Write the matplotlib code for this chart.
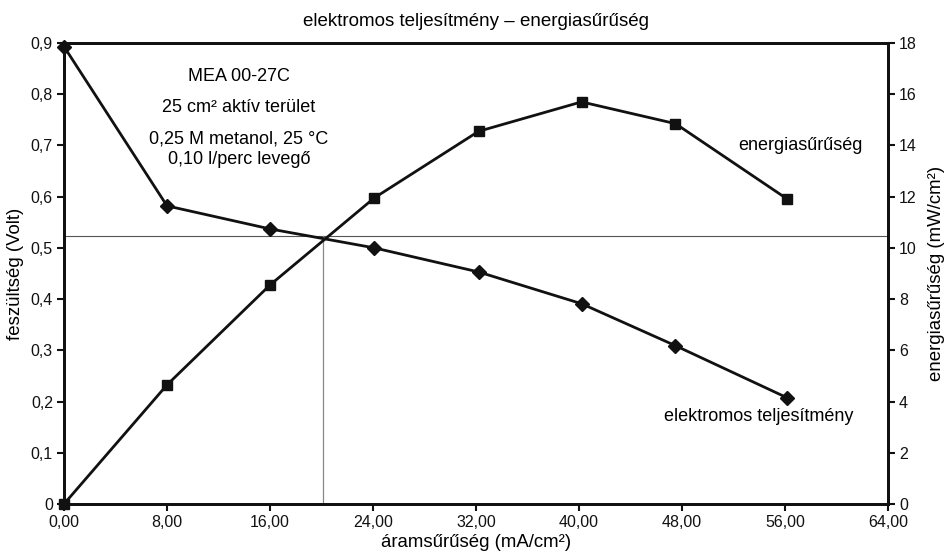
import matplotlib
matplotlib.use("Agg")
import matplotlib.pyplot as plt
from matplotlib.ticker import FuncFormatter

plt.rcParams['font.family'] = ['Liberation Sans', 'DejaVu Sans']

# áramsűrűség (mA/cm2)
aram = [0, 8, 16, 24.1, 32.2, 40.2, 47.5, 56.2]
# feszültség (Volt)
feszultseg = [0.893, 0.582, 0.537, 0.500, 0.453, 0.391, 0.309, 0.207]
# energiasűrűség (mW/cm2)
energia = [0, 4.65, 8.55, 11.95, 14.55, 15.7, 14.85, 11.9]

x_ticks = [0, 8, 16, 24, 32, 40, 48, 56, 64]
y_left_ticks = [0, 0.1, 0.2, 0.3, 0.4, 0.5, 0.6, 0.7, 0.8, 0.9]
y_right_ticks = [0, 2, 4, 6, 8, 10, 12, 14, 16, 18]

hline_v = 0.523
vline_i = 20.1

fig = plt.figure(figsize=(9.47, 5.54), dpi=100)
ax = fig.add_axes([0.0676, 0.0903, 0.87, 0.8321])
ax2 = ax.twinx()

ax.axhline(hline_v, color='#555555', lw=0.8, zorder=1)
ax.plot([vline_i, vline_i], [0, hline_v], color='#888888', lw=0.9, zorder=1)

ax.plot(aram, feszultseg, color='#111111', lw=2, marker='D', ms=7, zorder=3, clip_on=False)
ax2.plot(aram, energia, color='#111111', lw=2, marker='s', ms=7, zorder=3, clip_on=False)

ax.set_xlim(0, 64)
ax.set_ylim(0, 0.9)
ax2.set_ylim(0, 18)
ax.set_xticks(x_ticks)
ax.set_yticks(y_left_ticks)
ax2.set_yticks(y_right_ticks)

ax.xaxis.set_major_formatter(FuncFormatter(lambda v, p: f"{v:.2f}".replace('.', ',')))
ax.yaxis.set_major_formatter(FuncFormatter(lambda v, p: "0" if v == 0 else f"{v:.1f}".replace('.', ',')))

for a in (ax, ax2):
    for s in a.spines.values():
        s.set_linewidth(2)
        s.set_color('#111111')
    a.tick_params(direction='out', length=5, width=1.5, labelsize=11.5, colors='#111111', pad=3)

ax.set_xlabel("áramsűrűség (mA/cm²)", fontsize=13.4, labelpad=3)
ax.set_ylabel("feszültség (Volt)", fontsize=13.4, labelpad=5)
ax2.set_ylabel("energiasűrűség (mW/cm²)", fontsize=13.4, labelpad=8)
ax.set_title("elektromos teljesítmény – energiasűrűség", fontsize=13.5, pad=12)

fs = 13
ax.text(13.6, 0.835, "MEA 00-27C", ha='center', va='center', fontsize=fs)
ax.text(13.6, 0.775, "25 cm² aktív terület", ha='center', va='center', fontsize=fs)
ax.text(13.6, 0.713, "0,25 M metanol, 25 °C", ha='center', va='center', fontsize=fs)
ax.text(13.6, 0.672, "0,10 l/perc levegő", ha='center', va='center', fontsize=fs)

ax.text(57.2, 0.70, "energiasűrűség", ha='center', va='center', fontsize=fs)
ax.text(54.0, 0.171, "elektromos teljesítmény", ha='center', va='center', fontsize=fs)

fig.savefig("out.png", dpi=100)
